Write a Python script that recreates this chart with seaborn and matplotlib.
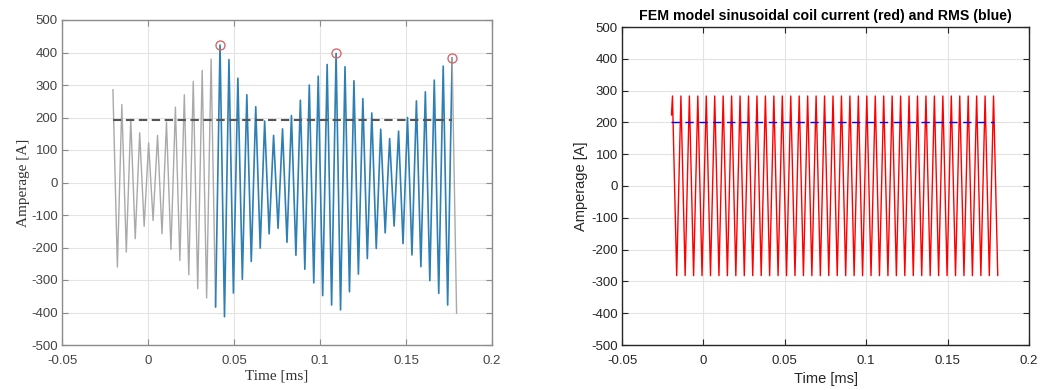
import numpy as np
import pandas as pd
import matplotlib
matplotlib.use("Agg")
import matplotlib.pyplot as plt
import seaborn as sns

# ---------------- data ----------------
# Left: measured coil current, per-cycle peak and trough values [A]
meas_peaks = [286, 240, 194, 153, 122, 145, 186, 232, 270, 311, 345, 380, 423,
              378, 321, 270, 233, 189, 145, 165, 206, 253, 300, 327, 363, 397,
              356, 313, 258, 214, 164, 135, 158, 200, 251, 279, 315, 358, 384]
meas_troughs = [-260, -214, -173, -135, -117, -158, -206, -240, -284, -327, -355, -383, -413,
                -340, -298, -243, -202, -158, -141, -184, -224, -267, -309, -348, -377, -392,
                -336, -282, -234, -203, -155, -134, -188, -223, -259, -302, -341, -377, -403]
meas_t_first_peak = -0.0204   # ms
meas_period = 0.00519         # ms
meas_rms = 193
circled_peaks = [13, 26, 39]  # cycle numbers of the marked maxima

# Right: FEM model sinusoidal coil current
fem_start_value = 223
fem_peaks = [283, 283, 283, 283, 283, 283, 283, 283, 283, 283, 283, 283, 283,
             283, 283, 283, 283, 283, 283, 283, 283, 283, 283, 283, 283, 283,
             283, 283, 283, 283, 283, 283, 283, 283, 283, 283, 283, 283, 283]
fem_troughs = [-282, -282, -282, -282, -282, -282, -282, -282, -282, -282, -282, -282, -282,
               -282, -282, -282, -282, -282, -282, -282, -282, -282, -282, -282, -282, -282,
               -282, -282, -282, -282, -282, -282, -282, -282, -282, -282, -282, -282, -282]
fem_t_start = -0.0196
fem_t_first_peak = -0.0190
fem_period = 0.00519
fem_rms = 200

x_ticks = [-0.05, 0, 0.05, 0.1, 0.15, 0.2]
x_tick_labels = ["-0.05", "0", "0.05", "0.1", "0.15", "0.2"]
y_ticks = [-500, -400, -300, -200, -100, 0, 100, 200, 300, 400, 500]

# ---------------- build series ----------------
n = len(meas_peaks)
mt, mv = [], []
for i in range(n):
    mt += [meas_t_first_peak + i * meas_period, meas_t_first_peak + (i + 0.5) * meas_period]
    mv += [meas_peaks[i], meas_troughs[i]]
meas = pd.DataFrame({"t": mt, "i": mv})

ft, fv = [fem_t_start], [fem_start_value]
for i in range(len(fem_peaks)):
    ft += [fem_t_first_peak + i * fem_period, fem_t_first_peak + (i + 0.5) * fem_period]
    fv += [fem_peaks[i], fem_troughs[i]]
fem = pd.DataFrame({"t": ft, "i": fv})

# ---------------- plot ----------------
sns.set_theme(style="whitegrid")
plt.rcParams["font.family"] = ["Liberation Sans", "DejaVu Sans"]
plt.rcParams["axes.unicode_minus"] = False

fig = plt.figure(figsize=(10.47, 3.90), dpi=100)
W, H = 1047, 390
axL = fig.add_axes([62 / W, 1 - 345 / H, (492 - 62) / W, (345 - 20) / H])
axR = fig.add_axes([622 / W, 1 - 345 / H, (1029 - 622) / W, (345 - 27) / H])

def style(ax, spine_col, tick_col):
    ax.set_xlim(-0.05, 0.2)
    ax.set_ylim(-500, 500)
    ax.set_xticks(x_ticks)
    ax.set_xticklabels(x_tick_labels)
    ax.set_yticks(y_ticks)
    ax.grid(True, color="#e3e3e3", linewidth=0.8)
    ax.set_facecolor("white")
    for s in ax.spines.values():
        s.set_visible(True)
        s.set_color(spine_col)
        s.set_linewidth(1.0)
    ax.tick_params(direction="in", length=4, width=0.8, color=spine_col,
                   labelcolor=tick_col, labelsize=9.5, top=True, right=True,
                   bottom=True, left=True, pad=3)
    ax.tick_params(axis="x", pad=7)

# Left panel
style(axL, "#8c8c8c", "#444444")
gray1 = meas.iloc[0:24]
blue = meas.iloc[23:77]
gray2 = meas.iloc[76:78]
for seg, col, lw in [(gray1, "#a9a9a9", 1.0), (blue, "#2e7fb3", 1.2), (gray2, "#a9a9a9", 1.0)]:
    sns.lineplot(data=seg, x="t", y="i", ax=axL, color=col, linewidth=lw,
                 sort=False, estimator=None, legend=False)
axL.plot([meas_t_first_peak, meas_t_first_peak + (n - 1) * meas_period], [meas_rms, meas_rms],
         color="#555555", linestyle=(0, (4, 2.2)), linewidth=1.5)
ct = [meas_t_first_peak + (c - 1) * meas_period for c in circled_peaks]
cv = [meas_peaks[c - 1] for c in circled_peaks]
axL.plot(ct, cv, linestyle="none", marker="o", markersize=6.5, markerfacecolor="none",
         markeredgecolor="#d46a6a", markeredgewidth=1.0)
axL.set_xlabel("Time [ms]", family=["Liberation Serif", "DejaVu Serif"], fontsize=11,
               color="#333333", labelpad=2)
axL.set_ylabel("Amperage [A]", family=["Liberation Serif", "DejaVu Serif"], fontsize=11,
               color="#333333", labelpad=1)

# Right panel
style(axR, "#262626", "#262626")
sns.lineplot(data=fem, x="t", y="i", ax=axR, color="red", linewidth=1.0,
             sort=False, estimator=None, legend=False)
axR.plot([fem_t_start, fem_t_first_peak + (len(fem_peaks) - 1) * fem_period], [fem_rms, fem_rms],
         color="blue", linestyle=(0, (6, 4)), linewidth=1.0)
axR.set_title("FEM model sinusoidal coil current (red) and RMS (blue)", fontsize=10.2,
              fontweight="bold", color="black", pad=5)
axR.set_xlabel("Time [ms]", fontsize=10.5, color="#262626", labelpad=4)
axR.set_ylabel("Amperage [A]", fontsize=10.5, color="#262626", labelpad=2)

fig.savefig("out.png", dpi=100)
